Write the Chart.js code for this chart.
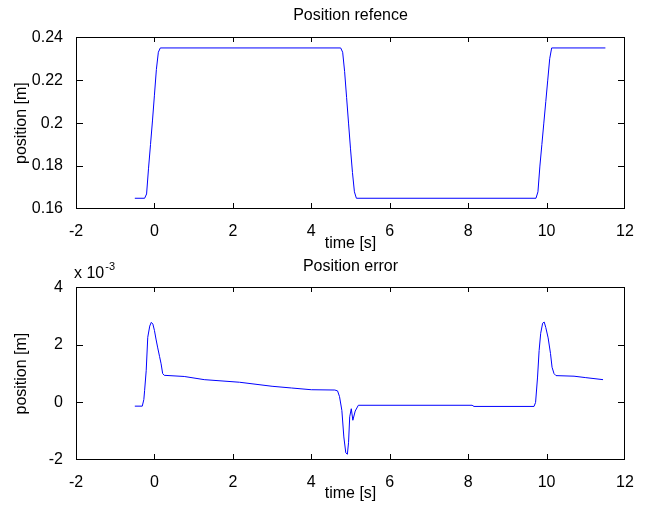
<!DOCTYPE html>
<html>
<head>
<meta charset="utf-8">
<script src="https://cdn.jsdelivr.net/npm/chart.js@4"></script>
<style>
  body { margin: 0; background: #fff; }
  canvas { display: block; }
</style>
</head>
<body>
<canvas id="refchart" width="650" height="253"></canvas>
<canvas id="errchart" width="650" height="253"></canvas>
<script>
// position reference [m]
var refTime = [-0.5, -0.25, -0.2, -0.15, -0.1, -0.05, 0, 0.05, 0.1, 0.15,
  4.75, 4.8, 4.85, 4.9, 4.95, 5.0, 5.05, 5.1, 5.15,
  9.73, 9.78, 9.83, 9.88, 9.93, 9.98, 10.03, 10.08, 10.13, 11.5];
var refPosition = [0.165, 0.165, 0.167, 0.179, 0.19, 0.201, 0.213, 0.225, 0.233, 0.235,
  0.235, 0.233, 0.224, 0.212, 0.2, 0.188, 0.177, 0.168, 0.165,
  0.165, 0.168, 0.18, 0.19, 0.2, 0.21, 0.22, 0.23, 0.235, 0.235];

// position error, in units of 10^-3 m
var errTime = [-0.5, -0.31, -0.27, -0.25, -0.21, -0.17, -0.12, -0.08, -0.04, 0.0, 0.04, 0.08, 0.13, 0.17, 0.21, 0.25,
  0.76, 1.27, 2.17, 3.0, 3.5, 4.0, 4.6, 4.67, 4.72, 4.78, 4.83, 4.88, 4.92, 4.95, 4.98, 5.02, 5.06, 5.12, 5.2,
  8.1, 8.15, 9.68, 9.72, 9.77, 9.81, 9.85, 9.9, 9.94, 9.98, 10.04, 10.1, 10.14, 10.19, 10.24,
  10.7, 11.0, 11.44];
var errPosition = [-0.13, -0.13, 0.1, 0.42, 1.1, 2.26, 2.65, 2.78, 2.72, 2.5, 2.2, 1.92, 1.6, 1.34, 1.0, 0.94,
  0.9, 0.79, 0.7, 0.56, 0.5, 0.44, 0.43, 0.4, 0.2, -0.28, -1.2, -1.75, -1.8, -1.4, -0.5, -0.22, -0.62, -0.3, -0.1,
  -0.1, -0.14, -0.14, 0.0, 0.88, 1.8, 2.4, 2.75, 2.79, 2.6, 2.24, 1.7, 1.22, 1.0, 0.93,
  0.91, 0.86, 0.79];

var timeTicks = [-2, 0, 2, 4, 6, 8, 10, 12];
var refTicks = [0.16, 0.18, 0.2, 0.22, 0.24];
var errTicks = [-2, 0, 2, 4];

var fontFamily = "'Liberation Sans', Arial, Helvetica, sans-serif";

// matlab style box with ticks pointing inwards
var matlabBox = {
  id: "matlabBox",
  afterDraw: function (chart, args, opts) {
    var ctx = chart.ctx;
    var a = chart.chartArea;
    var xs = chart.scales.x;
    var ys = chart.scales.y;
    var l = Math.round(a.left), r = Math.round(a.right) - 1;
    var t = Math.round(a.top), b = Math.round(a.bottom) - 1;
    ctx.save();
    ctx.fillStyle = "#000";
    // frame
    ctx.fillRect(l, t, r - l + 1, 1);
    ctx.fillRect(l, b, r - l + 1, 1);
    ctx.fillRect(l, t, 1, b - t + 1);
    ctx.fillRect(r, t, 1, b - t + 1);
    // ticks
    xs.ticks.forEach(function (tk) {
      var px = Math.round(xs.getPixelForValue(tk.value));
      if (px > r) px = r;
      ctx.fillRect(px, b - 5, 1, 5);
      ctx.fillRect(px, t, 1, 5);
    });
    ys.ticks.forEach(function (tk) {
      var py = Math.round(ys.getPixelForValue(tk.value));
      if (py > b) py = b;
      ctx.fillRect(l, py, 7, 1);
      ctx.fillRect(r - 6, py, 7, 1);
    });
    if (opts && opts.exponent) {
      ctx.textBaseline = "alphabetic";
      ctx.textAlign = "left";
      ctx.font = "16px " + fontFamily;
      var base = "x 10";
      ctx.fillText(base, a.left - 2, 25);
      var w = ctx.measureText(base).width;
      ctx.font = "11px " + fontFamily;
      ctx.fillText(opts.exponent, a.left - 1 + w, 17);
    }
    ctx.restore();
  }
};

function makeChart(id, time, values, yMin, yMax, yTicks, titleText, opt) {
  var ctx = document.getElementById(id).getContext("2d");
  var points = time.map(function (t, i) { return { x: t, y: values[i] }; });
  return new Chart(ctx, {
    type: "line",
    data: {
      datasets: [
        {
          data: points,
          borderColor: "rgb(0, 0, 255)",
          borderWidth: 1,
          pointRadius: 0,
          tension: 0,
          fill: false,
        },
      ],
    },
    options: {
      responsive: false,
      animation: false,
      devicePixelRatio: 1,
      layout: { padding: { left: 0, right: 25, top: 0, bottom: 0 } },
      plugins: {
        legend: { display: false },
        tooltip: { enabled: false },
        title: {
          display: true,
          text: titleText,
          fullSize: false,
          color: "#000",
          font: { family: fontFamily, size: 16, weight: "normal" },
          padding: opt.titlePadding,
        },
        matlabBox: { exponent: opt.exponent },
      },
      scales: {
        x: {
          type: "linear",
          min: -2,
          max: 12,
          grid: { display: false },
          border: { display: false },
          afterBuildTicks: function (scale) {
            scale.ticks = timeTicks.map(function (v) { return { value: v }; });
          },
          afterFit: function (scale) { scale.height = opt.xHeight; },
          ticks: {
            autoSkip: false,
            maxRotation: 0,
            padding: 5,
            color: "#000",
            font: { family: fontFamily, size: 16 },
            callback: function (v) { return String(v); },
          },
          title: {
            display: true,
            text: "time [s]",
            color: "#000",
            font: { family: fontFamily, size: 16 },
            padding: { top: 0, bottom: opt.xTitleBottom },
          },
        },
        y: {
          min: yMin,
          max: yMax,
          grid: { display: false },
          border: { display: false },
          afterBuildTicks: function (scale) {
            scale.ticks = yTicks.map(function (v) { return { value: v }; });
          },
          afterFit: function (scale) { scale.width = 76; },
          ticks: {
            autoSkip: false,
            padding: 5,
            color: "#000",
            font: { family: fontFamily, size: 16 },
            callback: function (v) { return String(v); },
          },
          title: {
            display: true,
            text: "position [m]",
            color: "#000",
            font: { family: fontFamily, size: 16 },
            padding: { top: 12, bottom: 0 },
          },
        },
      },
    },
    plugins: [matlabBox],
  });
}

makeChart("refchart", refTime, refPosition, 0.16, 0.24, refTicks, "Position refence", {
  titlePadding: { top: 6, bottom: 12 },
  xHeight: 44,
  xTitleBottom: 0,
});

makeChart("errchart", errTime, errPosition, -2, 4, errTicks, "Position error", {
  titlePadding: { top: 4, bottom: 11 },
  xHeight: 46,
  xTitleBottom: 3,
  exponent: "-3",
});
</script>
</body>
</html>
